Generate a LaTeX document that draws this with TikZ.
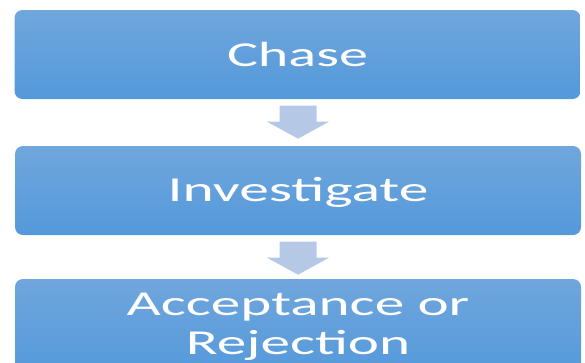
\documentclass[tikz,border=0pt]{standalone}
\usepackage{fontspec}
\setmainfont{Carlito}
\usetikzlibrary{calc}
\definecolor{boxtop}{RGB}{112,166,220}
\definecolor{boxbot}{RGB}{84,153,219}
\definecolor{arrowfill}{RGB}{181,201,231}
\newcommand{\wide}[2]{\scalebox{#1}[1]{#2}}
\tikzset{
  stepbox/.style={rounded corners=8pt, top color=boxtop, bottom color=boxbot,
    draw=none, minimum width=566pt, text=white, inner sep=0pt,
    font=\fontsize{35}{39}\selectfont, align=center},
  downarrow/.style={fill=arrowfill, draw=none}
}
\newcommand{\blockarrow}[1]{%
  \fill[downarrow] ($(#1)+(-18.5,6.5)$) -- ($(#1)+(18.5,6.5)$) -- ($(#1)+(18.5,22.5)$)
    -- ($(#1)+(31,22.5)$) -- ($(#1)+(0,39.5)$) -- ($(#1)+(-31,22.5)$)
    -- ($(#1)+(-18.5,22.5)$) -- cycle;}
\begin{document}
\begin{tikzpicture}[x=1pt,y=-1pt]
  \useasboundingbox (0,0) rectangle (585,362);
  \node[stepbox, minimum height=89pt] (chase) at (297.5,54.5) {\wide{1.66}{Chase}};
  \node[stepbox, minimum height=89pt, text depth=2pt] (invest) at (298,190.5) {\wide{1.70}{Investigate}};
  \node[stepbox, minimum height=96pt] (decide) at (298,327) {\wide{1.69}{Acceptance or}\\\wide{1.69}{Rejection}};
  \coordinate (a1) at ($(chase.south)+(0.5,0)$);
  \coordinate (a2) at ($(invest.south)+(0,0)$);
  \blockarrow{a1}
  \blockarrow{a2}
\end{tikzpicture}
\end{document}
